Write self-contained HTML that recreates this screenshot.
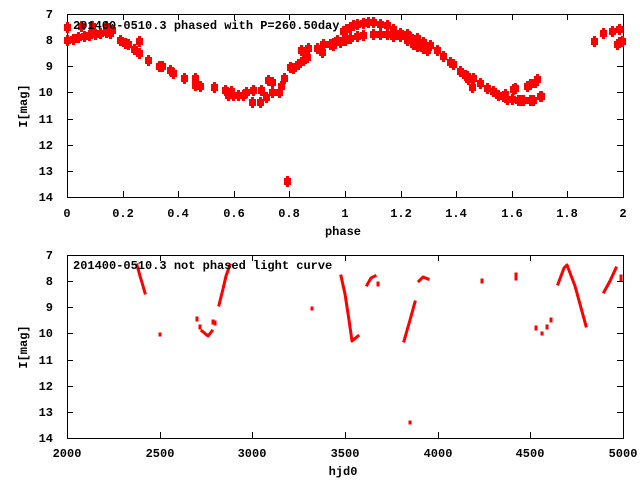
<!DOCTYPE html>
<html><head><meta charset="utf-8"><style>
html,body{margin:0;padding:0;background:#fff;width:640px;height:480px;overflow:hidden}
text{font-family:"Liberation Mono",monospace;font-size:12px;font-weight:bold;fill:#000}
</style></head><body>
<svg width="640" height="480" xmlns="http://www.w3.org/2000/svg">
<defs><g id="m" fill="#f00"><rect x="-3" y="-3" width="7" height="7"/><rect x="-1" y="-5" width="3" height="11"/></g></defs>
<g stroke="#000" fill="none">
<rect x="67.5" y="14.5" width="556" height="183"/>
<rect x="67.5" y="255.5" width="556" height="183"/>
<path d="M67 40.5h6M67 66.5h6M67 92.5h6M67 119.5h6M67 145.5h6M67 171.5h6M617 40.5h6M617 66.5h6M617 92.5h6M617 119.5h6M617 145.5h6M617 171.5h6
M123.5 14v6M178.5 14v6M234.5 14v6M289.5 14v6M345.5 14v6M401.5 14v6M456.5 14v6M512.5 14v6M567.5 14v6
M123.5 197v-6M178.5 197v-6M234.5 197v-6M289.5 197v-6M345.5 197v-6M401.5 197v-6M456.5 197v-6M512.5 197v-6M567.5 197v-6
M67 281.5h6M67 307.5h6M67 333.5h6M67 360.5h6M67 386.5h6M67 412.5h6M617 281.5h6M617 307.5h6M617 333.5h6M617 360.5h6M617 386.5h6M617 412.5h6
M160.5 255v6M252.5 255v6M345.5 255v6M438.5 255v6M530.5 255v6M160.5 438v-6M252.5 438v-6M345.5 438v-6M438.5 438v-6M530.5 438v-6"/>
</g>
<g text-anchor="end">
<text x="53" y="18">7</text><text x="53" y="44">8</text><text x="53" y="70">9</text><text x="53" y="96">10</text><text x="53" y="123">11</text><text x="53" y="149">12</text><text x="53" y="175">13</text><text x="53" y="201">14</text>
<text x="53" y="259">7</text><text x="53" y="285">8</text><text x="53" y="311">9</text><text x="53" y="337">10</text><text x="53" y="364">11</text><text x="53" y="390">12</text><text x="53" y="416">13</text><text x="53" y="442">14</text>
</g>
<g text-anchor="middle">
<text x="67" y="217">0</text><text x="123" y="217">0.2</text><text x="178" y="217">0.4</text><text x="234" y="217">0.6</text><text x="289" y="217">0.8</text><text x="345" y="217">1</text><text x="401" y="217">1.2</text><text x="456" y="217">1.4</text><text x="512" y="217">1.6</text><text x="567" y="217">1.8</text><text x="623" y="217">2</text>
<text x="343" y="235">phase</text>
<text x="67" y="457">2000</text><text x="160" y="457">2500</text><text x="252" y="457">3000</text><text x="345" y="457">3500</text><text x="438" y="457">4000</text><text x="530" y="457">4500</text><text x="623" y="457">5000</text>
<text x="343" y="475">hjd0</text>
<text transform="translate(27,106) rotate(-90)">I[mag]</text>
<text transform="translate(27,347) rotate(-90)">I[mag]</text>
</g>
<g>
<use href="#m" x="67" y="40"/><use href="#m" x="73" y="39"/><use href="#m" x="78" y="37"/><use href="#m" x="84" y="36"/><use href="#m" x="89" y="35"/><use href="#m" x="95" y="34"/><use href="#m" x="100" y="33"/><use href="#m" x="106" y="32"/><use href="#m" x="110" y="33"/>
<use href="#m" x="67" y="27"/><use href="#m" x="81" y="26"/><use href="#m" x="92" y="26"/><use href="#m" x="106" y="26"/><use href="#m" x="112" y="30"/>
<use href="#m" x="120" y="40"/><use href="#m" x="125" y="43"/><use href="#m" x="128" y="44"/><use href="#m" x="139" y="41"/><use href="#m" x="134" y="49"/><use href="#m" x="139" y="53"/><use href="#m" x="148" y="60"/><use href="#m" x="159" y="66"/><use href="#m" x="162" y="66"/><use href="#m" x="170" y="70"/><use href="#m" x="173" y="73"/><use href="#m" x="184" y="78"/><use href="#m" x="195" y="78"/><use href="#m" x="195" y="85"/><use href="#m" x="200" y="86"/><use href="#m" x="214" y="87"/><use href="#m" x="225" y="90"/><use href="#m" x="231" y="91"/>
<use href="#m" x="228" y="95"/><use href="#m" x="233" y="95"/><use href="#m" x="238" y="95"/><use href="#m" x="243" y="95"/><use href="#m" x="246" y="92"/><use href="#m" x="252" y="102"/><use href="#m" x="253" y="90"/><use href="#m" x="260" y="102"/><use href="#m" x="261" y="90"/><use href="#m" x="266" y="97"/><use href="#m" x="272" y="92"/><use href="#m" x="279" y="92"/><use href="#m" x="281" y="86"/><use href="#m" x="268" y="80"/><use href="#m" x="272" y="82"/><use href="#m" x="284" y="78"/><use href="#m" x="287" y="181"/>
<use href="#m" x="290" y="67"/><use href="#m" x="293" y="68"/><use href="#m" x="298" y="64"/><use href="#m" x="303" y="60"/><use href="#m" x="307" y="57"/><use href="#m" x="301" y="50"/><use href="#m" x="305" y="55"/><use href="#m" x="308" y="48"/><use href="#m" x="317" y="48"/><use href="#m" x="322" y="52"/><use href="#m" x="323" y="44"/><use href="#m" x="330" y="44"/><use href="#m" x="333" y="45"/><use href="#m" x="337" y="40"/>
<use href="#m" x="343" y="31"/><use href="#m" x="346" y="29"/><use href="#m" x="350" y="27"/><use href="#m" x="353" y="25"/><use href="#m" x="357" y="24"/><use href="#m" x="363" y="23"/><use href="#m" x="368" y="22"/><use href="#m" x="373" y="22"/><use href="#m" x="380" y="24"/><use href="#m" x="387" y="25"/><use href="#m" x="393" y="29"/><use href="#m" x="400" y="33"/><use href="#m" x="407" y="34"/><use href="#m" x="410" y="37"/><use href="#m" x="417" y="38"/><use href="#m" x="423" y="42"/><use href="#m" x="430" y="45"/><use href="#m" x="437" y="50"/><use href="#m" x="443" y="56"/><use href="#m" x="450" y="62"/><use href="#m" x="453" y="64"/><use href="#m" x="460" y="71"/><use href="#m" x="467" y="76"/><use href="#m" x="473" y="78"/><use href="#m" x="480" y="83"/><use href="#m" x="487" y="88"/><use href="#m" x="493" y="91"/><use href="#m" x="498" y="95"/><use href="#m" x="503" y="96"/><use href="#m" x="512" y="99"/><use href="#m" x="520" y="100"/><use href="#m" x="530" y="100"/><use href="#m" x="540" y="96"/>
<use href="#m" x="333" y="43"/><use href="#m" x="337" y="40"/><use href="#m" x="340" y="42"/><use href="#m" x="345" y="40"/><use href="#m" x="350" y="38"/><use href="#m" x="357" y="36"/><use href="#m" x="363" y="35"/><use href="#m" x="373" y="34"/><use href="#m" x="380" y="34"/><use href="#m" x="387" y="34"/><use href="#m" x="393" y="36"/><use href="#m" x="400" y="36"/><use href="#m" x="407" y="40"/><use href="#m" x="413" y="44"/><use href="#m" x="417" y="46"/><use href="#m" x="420" y="45"/><use href="#m" x="423" y="48"/><use href="#m" x="427" y="50"/>
<use href="#m" x="465" y="75"/><use href="#m" x="468" y="79"/><use href="#m" x="472" y="87"/><use href="#m" x="505" y="94"/><use href="#m" x="507" y="99"/><use href="#m" x="513" y="89"/><use href="#m" x="515" y="88"/><use href="#m" x="518" y="100"/><use href="#m" x="523" y="100"/><use href="#m" x="527" y="86"/><use href="#m" x="530" y="84"/><use href="#m" x="533" y="100"/><use href="#m" x="535" y="82"/><use href="#m" x="537" y="79"/><use href="#m" x="541" y="96"/>
<use href="#m" x="594" y="41"/><use href="#m" x="603" y="33"/><use href="#m" x="612" y="31"/><use href="#m" x="619" y="29"/><use href="#m" x="617" y="44"/><use href="#m" x="619" y="42"/><use href="#m" x="622" y="41"/>
</g>
<text x="73" y="29">201400-0510.3 phased with P=260.50day</text>
<g stroke="#f00" stroke-width="3" fill="none" stroke-linecap="square" stroke-linejoin="round">
<polyline points="137,265 140,276 143,286 145,293"/>
<polyline points="202,331 208,336 212,331"/>
<polyline points="219,305 223,289 226,276 230,265"/>
<polyline points="341,276 345,294 349,320 352,341 358,336"/>
<polyline points="367,285 371,278 375,276"/>
<polyline points="404,341 410,320 415,302"/>
<polyline points="419,281 423,277 428,279"/>
<polyline points="558,284 564,268 567,265 575,286 586,326"/>
<polyline points="604,292 610,281 616,268"/>
<path d="M160 334v1M197 318v2M200 326v2M213 321v2M215 322v2M312 308v1M410 422v1M482 280v2M516 274v5M536 327v2M542 333v1M547 326v2M551 319v2M378 283v2M621 276v4"/>
</g>
<text x="73" y="269">201400-0510.3 not phased light curve</text>
</svg>
</body></html>
